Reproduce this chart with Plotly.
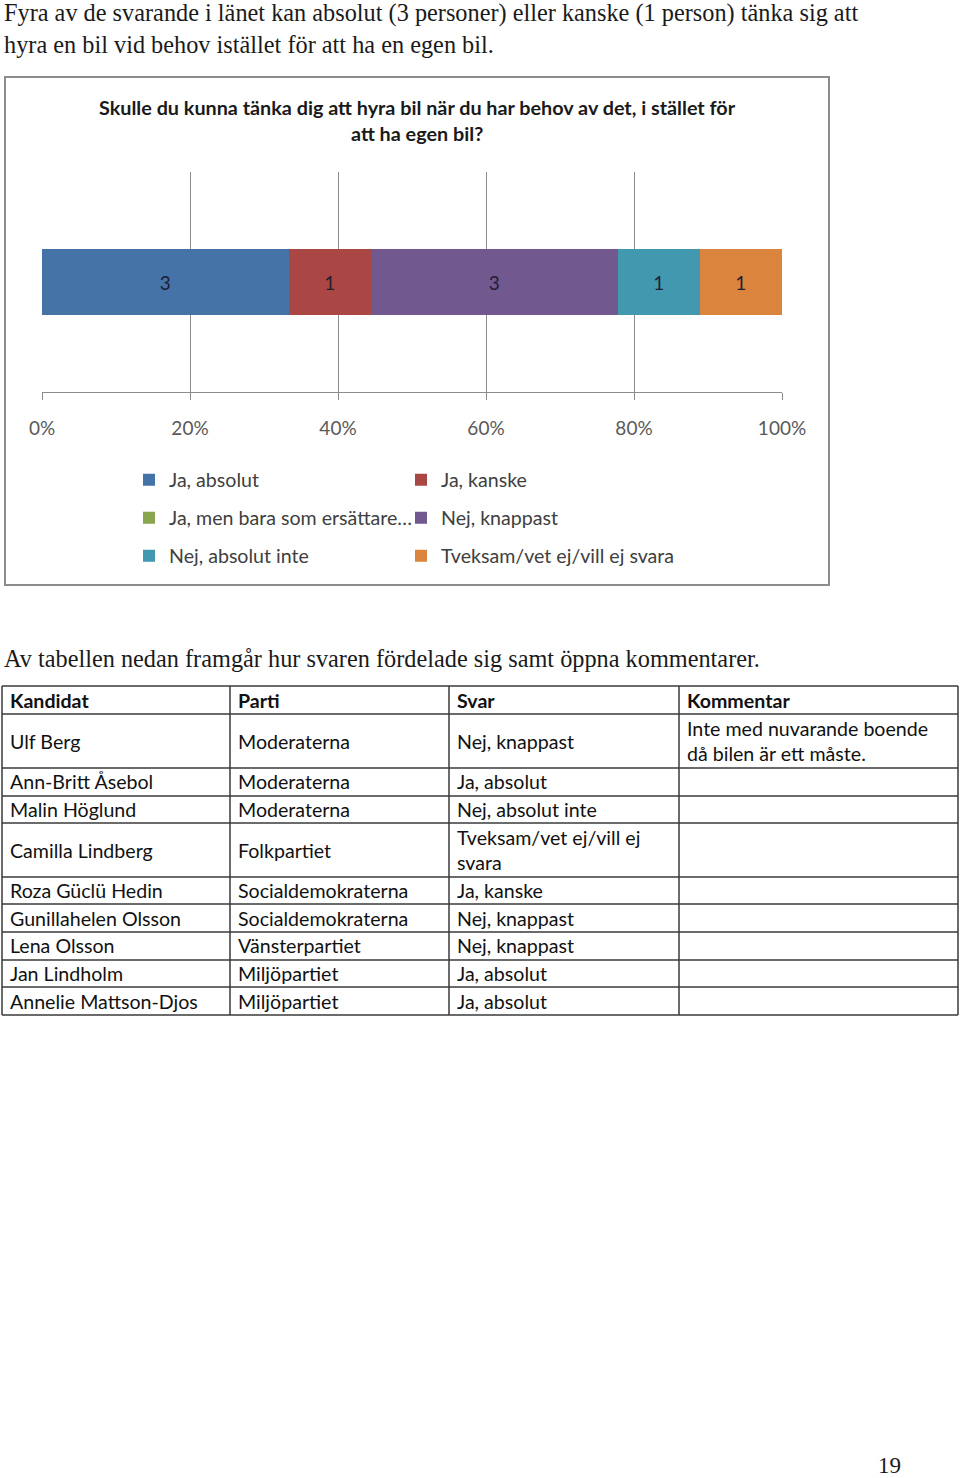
import plotly.graph_objects as go

W, H = 960, 1478

intro_lines = [
    "Fyra av de svarande i länet kan absolut (3 personer) eller kanske (1 person) tänka sig att",
    "hyra en bil vid behov istället för att ha en egen bil.",
]
title_lines = [
    "Skulle du kunna tänka dig att hyra bil när du har behov av det, i stället för",
    "att ha egen bil?",
]
answers = ["Ja, absolut", "Ja, kanske", "Ja, men bara som ersättare…",
           "Nej, knappast", "Nej, absolut inte", "Tveksam/vet ej/vill ej svara"]
counts = [3, 1, 0, 3, 1, 1]
colors = ["#4572A7", "#AA4643", "#89A54E", "#71588F", "#4198AF", "#DB843D"]
x_ticks = [0, 20, 40, 60, 80, 100]
x_ticklabels = ["0%", "20%", "40%", "60%", "80%", "100%"]

caption = "Av tabellen nedan framgår hur svaren fördelade sig samt öppna kommentarer."
headers = ["Kandidat", "Parti", "Svar", "Kommentar"]
kandidat = ["Ulf Berg", "Ann-Britt Åsebol", "Malin Höglund", "Camilla Lindberg", "Roza Güclü Hedin",
            "Gunillahelen Olsson", "Lena Olsson", "Jan Lindholm", "Annelie Mattson-Djos"]
parti = ["Moderaterna", "Moderaterna", "Moderaterna", "Folkpartiet", "Socialdemokraterna",
         "Socialdemokraterna", "Vänsterpartiet", "Miljöpartiet", "Miljöpartiet"]
svar = ["Nej, knappast", "Ja, absolut", "Nej, absolut inte", "Tveksam/vet ej/vill ej<br>svara",
        "Ja, kanske", "Nej, knappast", "Nej, knappast", "Ja, absolut", "Ja, absolut"]
kommentar = ["Inte med nuvarande boende<br>då bilen är ett måste.", "", "", "", "", "", "", "", ""]
page_no = "19"


def px(x):
    return x / W


def py(y):
    return 1 - y / H


SERIF = "Liberation Serif"
SANS = "Lato"

fig = go.Figure()
for i, (name, c, col) in enumerate(zip(answers, counts, colors)):
    fig.add_trace(go.Bar(
        x=[c], y=["q"], orientation="h", name=name, marker=dict(color=col, line=dict(width=0)),
        text=[str(c) if c else ""], textposition="inside", insidetextanchor="middle",
        textangle=0, constraintext="none",
        textfont=dict(family=SANS, size=19, color="#1f1f33"),
        legend="legend" if i == 0 else f"legend{i + 1}", hoverinfo="skip",
    ))

annotations = []
shapes = []

for text, y in zip(intro_lines, [13, 44]):
    annotations.append(dict(text=text, x=px(2), y=py(y), xanchor="left", yanchor="middle",
                            font=dict(family=SERIF, size=24.3, color="#1a1a1a")))
for text, y in zip(title_lines, [107, 133]):
    annotations.append(dict(text=f"<b>{text}</b>", x=px(417), y=py(y), xanchor="center", yanchor="middle",
                            font=dict(family=SANS, size=19.8, color="#1a1a1a")))
annotations.append(dict(text=caption, x=px(2), y=py(659), xanchor="left", yanchor="middle",
                        font=dict(family=SERIF, size=24.3, color="#1a1a1a")))
annotations.append(dict(text=page_no, x=px(889), y=py(1465), xanchor="center", yanchor="middle",
                        font=dict(family=SERIF, size=23, color="#1a1a1a")))

# chart frame
shapes.append(dict(type="rect", xref="paper", yref="paper", x0=px(5), x1=px(829), y0=py(77), y1=py(585),
                   line=dict(color="#8c8c8c", width=2), fillcolor="rgba(0,0,0,0)", layer="below"))

# table
col_edges = [2, 230, 449, 679, 958]
row_edges = [686, 714, 768, 796, 823, 877, 904, 932, 960, 987, 1015]
for xe in col_edges:
    shapes.append(dict(type="line", xref="paper", yref="paper", x0=px(xe), x1=px(xe),
                       y0=py(row_edges[0]), y1=py(row_edges[-1]), line=dict(color="#3a3a3a", width=1.5)))
for ye in row_edges:
    shapes.append(dict(type="line", xref="paper", yref="paper", x0=px(col_edges[0]), x1=px(col_edges[-1]),
                       y0=py(ye), y1=py(ye), line=dict(color="#3a3a3a", width=1.5)))

rows = [[f"<b>{h}</b>" for h in headers]] + [list(r) for r in zip(kandidat, parti, svar, kommentar)]
for r, cells in enumerate(rows):
    yc = (row_edges[r] + row_edges[r + 1]) / 2
    for ci, cell in enumerate(cells):
        if not cell:
            continue
        annotations.append(dict(text=cell, x=px(col_edges[ci] + 6), y=py(yc), xanchor="left", yanchor="middle",
                                align="left", font=dict(family=SANS, size=19.6, color="#111111")))

legends = {}
for i in range(len(answers)):
    key = "legend" if i == 0 else f"legend{i + 1}"
    legends[key] = dict(x=px([129, 401][i % 2]), y=py([480, 518, 556][i // 2]), xanchor="left", yanchor="middle",
                        orientation="v", bgcolor="rgba(0,0,0,0)",
                        font=dict(family=SANS, size=19.6, color="#404040"))

fig.update_layout(
    width=W, height=H, autosize=False,
    margin=dict(l=0, r=0, t=0, b=0, autoexpand=False),
    paper_bgcolor="white", plot_bgcolor="white",
    barmode="stack", barnorm="percent", bargap=0.7,
    showlegend=True,
    xaxis=dict(domain=[px(42), px(782)], range=[0, 100], tickvals=x_ticks, ticktext=x_ticklabels,
               showgrid=True, gridcolor="#8c8c8c", gridwidth=1, zeroline=False,
               showline=True, linecolor="#8c8c8c", linewidth=1,
               ticks="outside", ticklen=7, tickcolor="#8c8c8c", ticklabelstandoff=12,
               tickfont=dict(family=SANS, size=19, color="#595959"), fixedrange=True),
    yaxis=dict(domain=[py(392), py(172)], range=[-0.5, 0.5], showticklabels=False, showgrid=False,
               zeroline=False, fixedrange=True),
    annotations=[dict(a, xref="paper", yref="paper", showarrow=False) for a in annotations],
    shapes=shapes,
    **legends,
)

fig.write_html("out.html", config={"displayModeBar": False},
               post_script="document.body.style.margin='0';document.body.style.overflow='hidden';")
